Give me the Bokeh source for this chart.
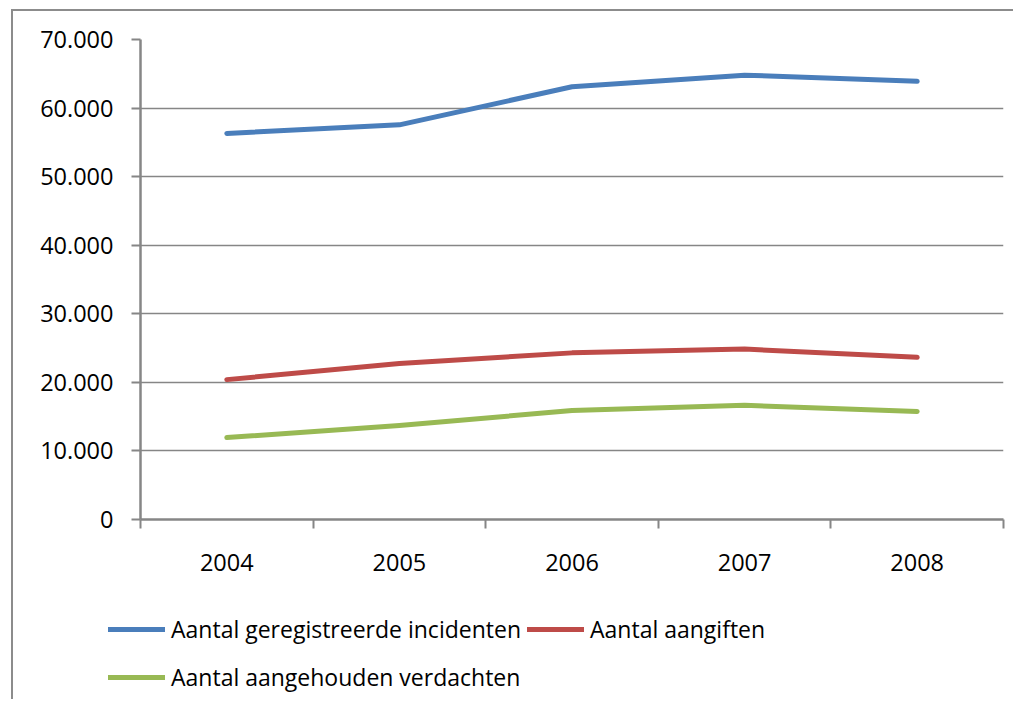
from bokeh.plotting import figure
from bokeh.layouts import column, row
from bokeh.models import FixedTicker, Legend, LegendItem, Range1d, Spacer
from bokeh.embed import file_html
from bokeh.resources import INLINE

years = ["2004", "2005", "2006", "2007", "2008"]
incidenten = [56300, 57550, 63100, 64800, 63900]
aangiften = [20400, 22750, 24300, 24850, 23650]
verdachten = [11950, 13700, 15900, 16650, 15750]
y_ticks = [0, 10000, 20000, 30000, 40000, 50000, 60000, 70000]
y_labels = ["0", "10.000", "20.000", "30.000", "40.000", "50.000", "60.000", "70.000"]

series = [
    ("Aantal geregistreerde incidenten", incidenten, "#4A7EBB"),
    ("Aantal aangiften", aangiften, "#BE4B48"),
    ("Aantal aangehouden verdachten", verdachten, "#98B954"),
]

FONT = "Open Sans"
GREY = "#868686"

xs = [i + 0.5 for i in range(len(years))]

p = figure(width=1000, height=580, output_backend="svg", toolbar_location=None,
           x_range=Range1d(0, len(years)), y_range=Range1d(0, 70000),
           min_border_left=127, min_border_right=10, min_border_top=28,
           min_border_bottom=72)
p.outline_line_color = None
p.frame_align = False

for name, vals, col in series:
    p.line(xs, vals, line_color=col, line_width=5, line_cap="round", line_join="round")

p.xgrid.grid_line_color = None
p.ygrid.grid_line_color = GREY
p.ygrid.grid_line_width = 1.5
p.ygrid.ticker = FixedTicker(ticks=y_ticks)

ya = p.yaxis[0]
ya.ticker = FixedTicker(ticks=y_ticks)
ya.major_label_overrides = {t: l for t, l in zip(y_ticks, y_labels)}
ya.axis_line_color = GREY
ya.axis_line_width = 2.5
ya.major_tick_line_color = GREY
ya.major_tick_line_width = 2
ya.major_tick_out = 9
ya.major_tick_in = 0
ya.minor_tick_line_color = None
ya.major_label_standoff = 18
ya.major_label_text_font = FONT
ya.major_label_text_font_size = "23.5px"
ya.major_label_text_color = "black"

xa = p.xaxis[0]
xa.ticker = FixedTicker(ticks=xs, minor_ticks=list(range(len(years) + 1)))
xa.major_label_overrides = {x: y for x, y in zip(xs, years)}
xa.axis_line_color = GREY
xa.axis_line_width = 2.5
xa.major_tick_line_color = None
xa.major_tick_out = 0
xa.major_tick_in = 0
xa.minor_tick_line_color = GREY
xa.minor_tick_line_width = 2
xa.minor_tick_out = 9
xa.minor_tick_in = 0
xa.major_label_standoff = 25
xa.major_label_text_font = FONT
xa.major_label_text_font_size = "23.5px"
xa.major_label_text_color = "black"

# legend panel underneath (series lines lie outside this panel's visible range)
p2 = figure(width=1000, height=108, output_backend="svg", toolbar_location=None,
            x_range=Range1d(0, 1), y_range=Range1d(0, 1),
            min_border_left=0, min_border_right=0, min_border_top=0, min_border_bottom=0)
p2.frame_align = False
p2.axis.visible = False
p2.grid.visible = False
p2.outline_line_color = None
items = []
for name, vals, col in series:
    r = p2.line(xs, vals, line_color=col, line_width=5, line_cap="round")
    items.append(LegendItem(label=name, renderers=[r]))

legend = Legend(items=items, location=(95, 1), orientation="horizontal", ncols=2,
                glyph_width=57, glyph_height=42, label_height=42,
                label_standoff=6, spacing=6, padding=0, margin=0,
                border_line_color=None, background_fill_alpha=0,
                label_text_font=FONT, label_text_font_size="23px",
                label_text_color="black")
p2.add_layout(legend)

chart = column(p, p2, spacing=0)
chart.styles = {"border-left": "2px solid #8c8c8c", "border-top": "2px solid #8c8c8c"}
layout = column(Spacer(height=9), row(Spacer(width=11), chart, spacing=0), spacing=0)
open("out.html", "w").write(file_html(layout, INLINE))
